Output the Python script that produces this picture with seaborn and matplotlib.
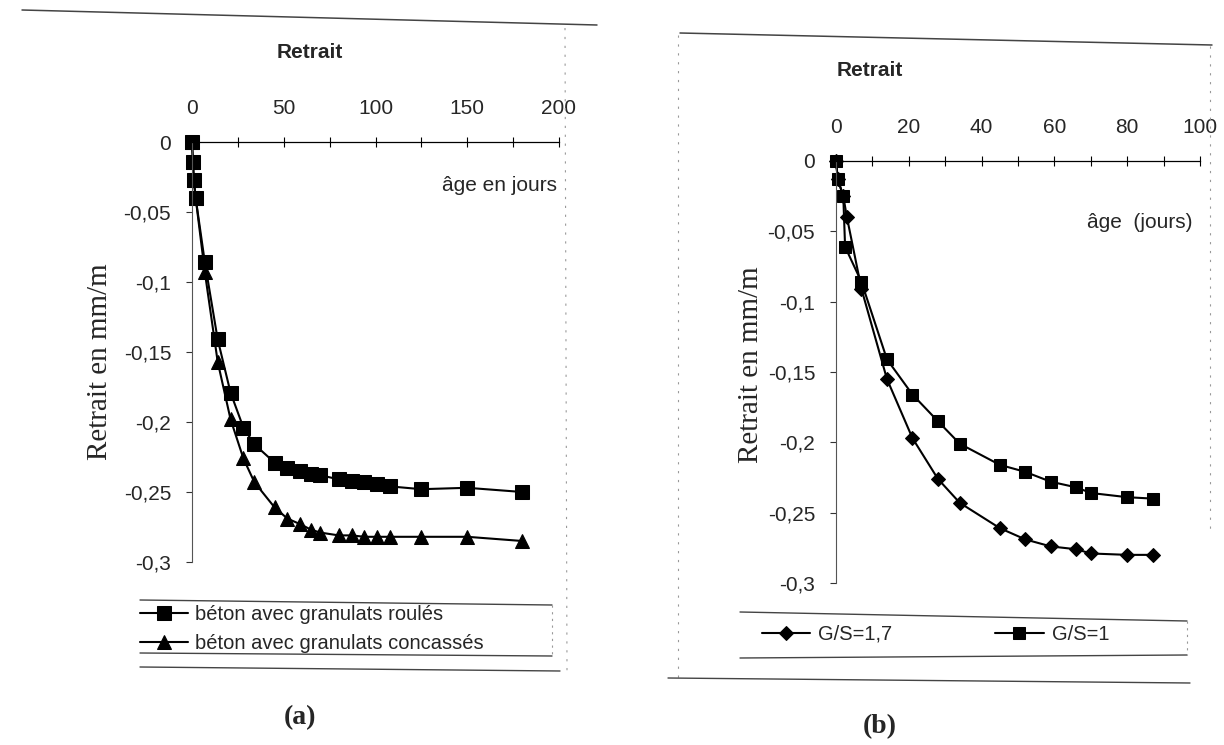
import matplotlib
matplotlib.use("Agg")
import matplotlib.pyplot as plt
from matplotlib.lines import Line2D
import seaborn as sns
import pandas as pd

# ---------------- data ----------------
# panel (a)
days_a = [0, 0.5, 1, 2, 7, 14, 21, 28, 34, 45, 52, 59, 65, 70, 80, 87, 94, 101, 108, 125, 150, 180]
roules = [0, -0.014, -0.027, -0.04, -0.086, -0.141, -0.179, -0.204, -0.216, -0.229, -0.233,
          -0.235, -0.237, -0.238, -0.241, -0.242, -0.243, -0.244, -0.246, -0.248, -0.247, -0.25]
concasses = [0, -0.014, -0.027, -0.04, -0.093, -0.157, -0.198, -0.226, -0.243, -0.261, -0.269,
             -0.273, -0.277, -0.279, -0.281, -0.281, -0.282, -0.282, -0.282, -0.282, -0.282, -0.285]
label_a1 = "béton avec granulats roulés"
label_a2 = "béton avec granulats concassés"

# panel (b)
days_b1 = [0, 0.5, 2, 3, 7, 14, 21, 28, 34, 45, 52, 59, 66, 70, 80, 87]
gs17 = [0, -0.013, -0.025, -0.04, -0.091, -0.155, -0.197, -0.226, -0.243, -0.261, -0.269,
        -0.274, -0.276, -0.279, -0.280, -0.280]
days_b2 = [0, 0.5, 2, 2.5, 7, 14, 21, 28, 34, 45, 52, 59, 66, 70, 80, 87]
gs1 = [0, -0.013, -0.025, -0.061, -0.086, -0.141, -0.166, -0.185, -0.201, -0.216, -0.221,
       -0.228, -0.232, -0.236, -0.239, -0.240]
label_b1 = "G/S=1,7"
label_b2 = "G/S=1"

yticks = [0, -0.05, -0.1, -0.15, -0.2, -0.25, -0.3]
yticklabels = ["0", "-0,05", "-0,1", "-0,15", "-0,2", "-0,25", "-0,3"]
xticks_a = [0, 50, 100, 150, 200]
xticks_b = [0, 20, 40, 60, 80, 100]

# ---------------- style ----------------
sns.set_style("white")
plt.rcParams["font.family"] = ["Liberation Sans", "DejaVu Sans"]

W, H = 1224, 745
fig = plt.figure(figsize=(W / 100, H / 100), dpi=100)
fig.patch.set_facecolor("white")


def px_axes(l, t, r, b):
    return fig.add_axes([l / W, 1 - b / H, (r - l) / W, (b - t) / H])


def fline(x0, y0, x1, y1, **kw):
    fig.add_artist(Line2D([x0 / W, x1 / W], [1 - y0 / H, 1 - y1 / H],
                          transform=fig.transFigure, **kw))


axA = px_axes(192, 142, 559, 562)
axB = px_axes(836, 161, 1200, 583)

dfa1 = pd.DataFrame({"x": days_a, "y": roules})
dfa2 = pd.DataFrame({"x": days_a, "y": concasses})
dfb1 = pd.DataFrame({"x": days_b1, "y": gs17})
dfb2 = pd.DataFrame({"x": days_b2, "y": gs1})

common = dict(color="black", linewidth=1.5, estimator=None, sort=False,
              markeredgecolor="black", clip_on=False)
sns.lineplot(data=dfa1, x="x", y="y", marker="s", markersize=9.5, ax=axA, label=label_a1, **common)
sns.lineplot(data=dfa2, x="x", y="y", marker="^", markersize=10.5, ax=axA, label=label_a2, **common)
sns.lineplot(data=dfb1, x="x", y="y", marker="D", markersize=7.5, ax=axB, label=label_b1, **common)
sns.lineplot(data=dfb2, x="x", y="y", marker="s", markersize=9, ax=axB, label=label_b2, **common)

for ax, xmax, xt, minor in ((axA, 200, xticks_a, 25), (axB, 100, xticks_b, 10)):
    ax.set_xlim(0, xmax)
    ax.set_ylim(-0.3, 0)
    ax.set_facecolor("none")
    ax.xaxis.tick_top()
    ax.set_xticks(xt)
    ax.set_xticks([v for v in range(0, xmax + 1, minor)], minor=True)
    ax.set_xticklabels([str(v) for v in xt])
    ax.set_yticks(yticks)
    ax.set_yticklabels(yticklabels)
    ax.tick_params(axis="x", which="both", direction="inout", length=7, width=0.8,
                   color="black", pad=14, labelsize=15, top=True, bottom=False)
    ax.tick_params(axis="x", which="minor", labeltop=False)
    ax.tick_params(axis="y", direction="out", length=4, width=0.8, color="#333333",
                   pad=11, labelsize=15, left=True)
    for s in ("right", "bottom"):
        ax.spines[s].set_visible(False)
    ax.spines["top"].set_linewidth(0.9)
    ax.spines["top"].set_color("black")
    ax.spines["left"].set_linewidth(0.8)
    ax.spines["left"].set_color("#555555")
    ax.set_xlabel("")
    ax.set_ylabel("")

axA.text(199, -0.031, "âge en jours", ha="right", va="center", fontsize=15)
axB.text(98, -0.044, "âge  (jours)", ha="right", va="center", fontsize=15)

# titles
fig.text(310 / W, 1 - 52 / H, "Retrait", ha="center", va="center", fontsize=15, fontweight="bold")
fig.text(870 / W, 1 - 70 / H, "Retrait", ha="center", va="center", fontsize=15, fontweight="bold")

# y labels (serif)
fig.text(100 / W, 1 - 362 / H, "Retrait en mm/m", rotation=90, ha="center", va="center",
         fontsize=21, family=["Liberation Serif", "DejaVu Serif"])
fig.text(751 / W, 1 - 365 / H, "Retrait en mm/m", rotation=90, ha="center", va="center",
         fontsize=21, family=["Liberation Serif", "DejaVu Serif"])

# panel labels
fig.text(300 / W, 1 - 718 / H, "(a)", ha="center", va="center", fontsize=20, fontweight="bold",
         family=["Liberation Serif", "DejaVu Serif"])
fig.text(880 / W, 1 - 727 / H, "(b)", ha="center", va="center", fontsize=20, fontweight="bold",
         family=["Liberation Serif", "DejaVu Serif"])

# legends
legA = axA.legend(loc="upper left", bbox_to_anchor=(140 / W, 1 - 605 / H),
                  bbox_transform=fig.transFigure, frameon=False, borderpad=0,
                  borderaxespad=0, handlelength=2.4, handletextpad=0.35,
                  labelspacing=0.5, fontsize=14.5)
legB = axB.legend(loc="upper left", bbox_to_anchor=(762 / W, 1 - 625 / H),
                  bbox_transform=fig.transFigure, frameon=False, borderpad=0,
                  borderaxespad=0, handlelength=2.4, handletextpad=0.4,
                  ncol=2, columnspacing=5.1, fontsize=14.5)

# scanned chart-area / legend frames
gray = "#444444"
fline(22, 10, 597, 25, color=gray, lw=1.1)
fline(565, 28, 567, 672, color="#999999", lw=0.8, ls=(0, (2, 6)))
fline(140, 600, 552, 605, color=gray, lw=1.0)
fline(140, 653, 552, 656, color=gray, lw=1.0)
fline(552, 605, 552, 656, color="#999999", lw=0.8, ls=(0, (2, 4)))
fline(140, 667, 560, 671, color=gray, lw=1.0)

fline(680, 33, 1212, 45, color=gray, lw=1.1)
fline(678, 35, 678, 680, color="#999999", lw=0.8, ls=(0, (2, 6)))
fline(1210, 46, 1210, 530, color="#999999", lw=0.8, ls=(0, (2, 6)))
fline(740, 612, 1187, 621, color=gray, lw=1.0)
fline(740, 658, 1187, 655, color=gray, lw=1.0)
fline(1187, 621, 1187, 655, color="#999999", lw=0.8, ls=(0, (2, 4)))
fline(668, 678, 1190, 683, color=gray, lw=1.0)

fig.savefig("out.png", dpi=100, facecolor="white")
